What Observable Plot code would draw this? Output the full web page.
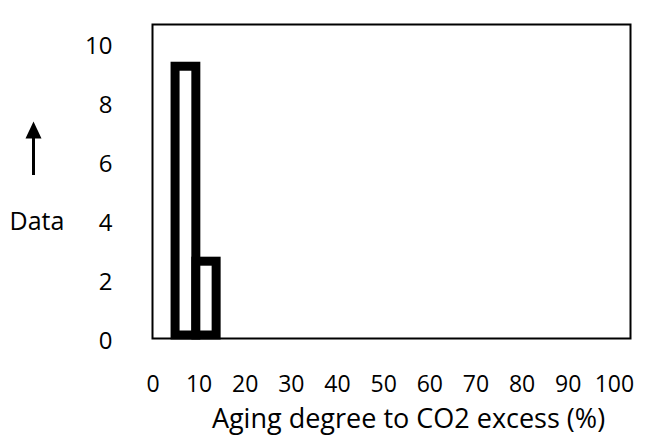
<!DOCTYPE html>
<html>
<head>
<meta charset="utf-8">
<script src="https://cdn.jsdelivr.net/npm/d3@7"></script>
<script src="https://cdn.jsdelivr.net/npm/@observablehq/plot@0.6"></script>
<style>
  html, body { margin: 0; padding: 0; background: #fff; }
  #chart { position: relative; width: 647px; height: 442px; }
</style>
</head>
<body>
<div id="chart"></div>
<script>
// Data
const binStart = [4.9, 9.4];
const binEnd = [9.4, 13.8];
const counts = [9.2, 2.6];
const xTicks = [0, 10, 20, 30, 40, 50, 60, 70, 80, 90, 100];
const yTicks = [0, 2, 4, 6, 8, 10];
const xLabel = "Aging degree to CO2 excess (%)";
const yLabel = "Data";

const bars = counts.map((c, i) => ({x1: binStart[i], x2: binEnd[i], y: c}));
const font = "'Open Sans', sans-serif";

const chart = Plot.plot({
  width: 647,
  height: 442,
  marginLeft: 152,
  marginRight: 17,
  marginTop: 24,
  marginBottom: 104,
  style: {fontFamily: font, background: "#fff", color: "#000"},
  x: {domain: [-0.1, 103.5]},
  y: {domain: [0, 10.63]},
  marks: [
    Plot.rect(bars, {x1: "x1", x2: "x2", y1: 0, y2: "y", fill: "white", stroke: "black", strokeWidth: 9, insetBottom: 3}),
    Plot.frame({stroke: "black", strokeWidth: 2}),
    Plot.axisX({ticks: xTicks, tickSize: 0, tickPadding: 37, fontSize: 23, label: null, fill: "#000"}),
    Plot.axisY({ticks: yTicks, tickSize: 0, tickPadding: 40, fontSize: 24, label: null, dy: 3, fill: "#000"}),
    Plot.text([xLabel], {frameAnchor: "bottom", dx: 17, dy: 89, fontSize: 27, fill: "#000"}),
    Plot.text([yLabel], {y: [4], frameAnchor: "left", dx: -115.5, dy: 1.5, textAnchor: "middle", fontSize: 25, fill: "#000"})
  ]
});

// decorative arrow above "Data"
const svg = d3.select(chart);
svg.append("line")
  .attr("x1", 33.5).attr("x2", 33.5)
  .attr("y1", 175).attr("y2", 134)
  .attr("stroke", "black").attr("stroke-width", 3);
svg.append("path")
  .attr("d", "M33.5,121.5 L25.5,138.5 L41.5,138.5 Z")
  .attr("fill", "black");

document.getElementById("chart").appendChild(chart);
</script>
</body>
</html>
